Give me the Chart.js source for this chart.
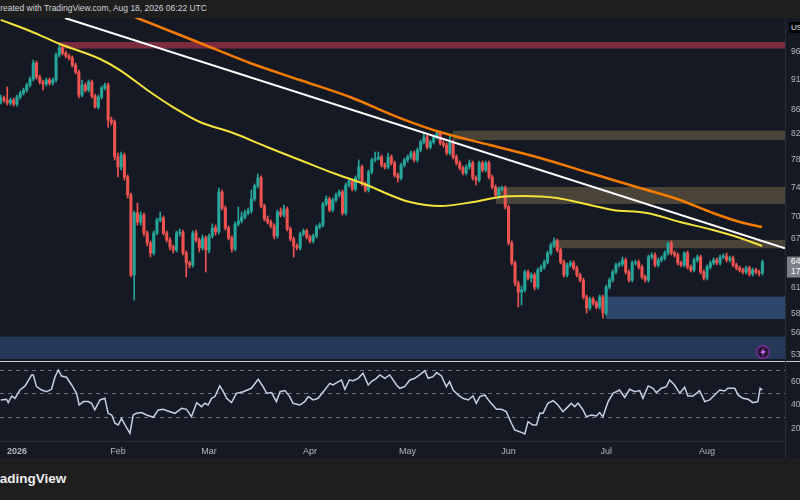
<!DOCTYPE html>
<html>
<head>
<meta charset="utf-8">
<script src="https://cdn.jsdelivr.net/npm/chart.js@4.4.1/dist/chart.umd.min.js"></script>
<style>
  html, body { margin: 0; padding: 0; width: 800px; height: 500px; overflow: hidden; background: #1e1e1e; font-family: "Liberation Sans", Arial, sans-serif; }
  #header { position: absolute; left: 0; top: 0; width: 800px; height: 18px; background: #1e1e1e; overflow: hidden; }
  #header span { position: absolute; left: -6px; top: 3px; font-size: 8.5px; color: #d1d4dc; white-space: nowrap; }
  #main { position: absolute; left: 0; top: 18px; background: #151924; }
  #rsi { position: absolute; left: 0; top: 362px; background: #151924; }
  #sep { position: absolute; left: 0; top: 360.5px; width: 800px; height: 1.5px; background: #c9cbd1; }
  #vsep { position: absolute; left: 785px; top: 18px; width: 1px; height: 440px; background: #2a2e39; }
  #footer { position: absolute; left: 0; top: 458px; width: 800px; height: 42px; background: #1e1e1e; overflow: hidden; }
  #footer span { position: absolute; left: -13px; top: 13px; font-size: 13.5px; font-weight: 700; color: #ececec; white-space: nowrap; }
  #cur { position: absolute; left: 789px; top: 22px; width: 20px; height: 11px; background: #050505; border-radius: 2px; color: #e0e3eb; font-size: 8px; line-height: 11px; padding-left: 2px; }
  #bolt { position: absolute; left: 755px; top: 344px; }
</style>
</head>
<body>
<div id="header"><span>Created with TradingView.com, Aug 18, 2026 06:22 UTC</span></div>
<canvas id="main" width="800" height="343"></canvas>
<canvas id="rsi" width="800" height="96"></canvas>
<div id="sep"></div>
<div id="vsep"></div>
<div id="cur">USD</div>
<svg id="bolt" width="16" height="16"><circle cx="8" cy="8" r="6.3" fill="#2a1738" stroke="#7b2c9c" stroke-width="1.4"/><path d="M9.2 3.4 L5.4 8.9 H7.9 L6.9 12.6 L10.7 7.1 H8.2 Z" fill="#d66bff"/></svg>
<div id="footer"><span>TradingView</span></div>

<script>
// --- daily candles, index 0 = Dec 27 2025, last = Aug 18 2026 ---
const firstOpen = 87190;
const closes = [
  87870,87530,87030,87530,86860,88040,88720,89230,90090,91140,
  93990,91490,90620,90270,90970,90440,90970,95450,96730,95820,
  95270,94900,93620,92370,88370,90090,89230,90620,88200,86360,
  88040,89570,90090,84230,83910,78450,76960,78750,75490,72920,
  62520,70440,69230,70170,67780,66500,65230,67780,69500,69770,
  67780,66880,65990,65600,67780,67910,65230,63980,63730,67780,
  66880,65860,67140,65600,67390,68440,67910,73340,71120,68440,
  67140,65730,68970,69370,69900,70440,70710,72360,74190,75350,
  71390,69630,69230,68700,67390,70580,70170,70980,68300,67010,
  66110,65860,67650,68040,67270,66750,67390,68570,68830,71670,
  72360,70850,72220,72920,73340,70440,74330,74910,73760,75350,
  76960,74480,73620,76220,78000,78150,78450,77250,76960,78450,
  77550,75780,75350,77250,78000,78450,79050,78000,79510,80740,
  81520,79970,80740,81520,82150,80590,80280,79050,80740,78450,
  77550,76810,76070,76960,77550,75350,75050,77550,76510,77550,
  75490,74050,72920,73760,73910,71260,66500,63980,61560,60500,
  60740,62880,62160,62520,61090,63120,63490,64100,65230,66240,
  66750,65600,64100,62520,63730,63980,63370,62520,61920,59930,
  58670,59700,59240,58790,59930,58110,61090,61920,62880,63730,
  63860,64350,62880,61920,63980,64100,63490,62280,61920,64720,
  64970,63730,64350,64600,65230,66500,65230,64970,63980,63730,
  65230,63490,63120,64350,64720,62880,62160,63490,63980,64350,
  63980,64720,64850,64350,64600,63730,63370,63120,62880,63370,
  62640,63120,62880,62760,64100
];
const highs = [
  88370,88200,89750,87870,87870,88370,89060,89570,90440,91490,
  94530,94350,91840,90970,91320,91320,91320,95820,97290,97100,
  96180,95630,95270,93990,92730,90970,90440,90970,90970,88550,
  88370,89920,90440,90440,84710,84230,79050,79210,79050,75780,
  73200,70710,71800,70580,70440,68040,66750,68040,69770,70580,
  70040,68040,67140,66240,68040,68300,68170,65480,64230,68040,
  68170,67140,67520,67390,67650,68970,68830,73910,73620,71390,
  68700,67390,69230,71260,70580,70850,71120,73620,74480,75930,
  75640,71670,70040,69500,68970,70850,71120,71530,71260,68570,
  67270,66370,67910,68300,68300,67520,67650,68830,69100,71940,
  72780,72640,72500,73200,73620,73620,74620,75200,75200,75640,
  78000,77250,74770,76510,78300,79210,79210,78750,77550,79050,
  78750,77850,76070,77550,78300,78750,79360,79360,79820,81050,
  82150,81830,81050,81830,82470,82470,80900,80590,81830,81050,
  78750,77850,77100,77250,78000,77850,75640,77850,77850,77850,
  77850,75780,74330,74050,74190,74190,71530,66750,64230,61800,
  61210,63120,63120,62760,62760,63370,63730,64350,65480,66500,
  67140,67010,65860,64350,63980,64230,64230,63610,62760,62160,
  60160,59930,59930,59470,60160,60160,61320,62160,63120,63980,
  64100,64720,64600,63120,64230,64350,64350,63730,62520,64970,
  65230,65230,64600,64850,65480,66620,66750,65480,65230,64230,
  65350,65480,63730,64600,64970,64970,63120,63730,64230,64600,
  64600,64970,65100,65230,64850,64850,63980,63610,63370,63610,
  63610,63370,63370,63120,64350
];
const lows = [
  86860,87190,86690,86690,86520,86520,87700,88370,88890,89750,
  90790,91140,90270,89230,89920,90090,90090,90620,95080,95450,
  94900,94530,93260,92020,87870,88040,88890,88890,87870,86190,
  86030,87700,89230,83100,83420,78000,75490,76510,75050,72500,
  62280,59580,68830,68830,67390,66110,64720,64970,67520,69230,
  67520,66620,65600,65230,65350,67390,64970,62280,63370,63490,
  66620,65350,65600,62880,65230,67140,67520,67650,70850,68170,
  66880,65350,65480,68700,69100,69630,70170,70440,72080,73910,
  71120,69370,68970,68440,67010,67140,69900,69900,68040,66750,
  64720,65600,65600,67390,67010,66500,66500,67140,68300,68570,
  71390,70580,70580,71940,72640,70170,70170,74050,73480,73480,
  75050,74190,73340,73340,75930,77700,78000,76960,76660,76660,
  77250,75490,74770,75050,76960,77700,78150,77700,77700,79210,
  80430,79660,79660,80430,81210,80280,79970,78750,78750,78150,
  77250,76510,75780,75780,76660,75050,74330,74770,76220,76220,
  75200,73760,72640,72640,73480,70980,66240,63730,61210,58790,
  59010,60500,61920,61680,60740,60850,62880,63240,63860,64970,
  65990,65350,63860,62280,62280,63490,63120,62280,61680,59700,
  58110,58440,59010,58560,58560,57550,57880,60850,61680,62640,
  63490,63610,62640,61680,61680,63730,63240,62040,61680,61680,
  64470,63490,63490,64100,64350,64970,64970,64720,63730,63490,
  63490,63240,62880,62880,64100,62640,61920,61920,63240,63730,
  63730,63730,64470,64100,64100,63490,63120,62880,62640,62640,
  62400,62400,62640,62400,62520
];

// moving averages and trendline as [candle index, price]
const yellowMA = [[0,102110],[9,99960],[18.2,97490],[30.5,94720],[36.6,92730],[45.9,88890],[52.9,86360],
  [61.2,83910],[71.4,82150],[81.8,79970],[91.9,78000],[102.1,76070],[112.5,74330],[119.6,72920],
  [125.7,71940],[134.9,71390],[145.1,71940],[153.4,72640],[160.5,72780],[170.9,72500],[181,71530],
  [188.1,70850],[198.5,70440],[208.7,69230],[218.8,68170],[227.1,67140],[233.9,66110]];
const orangeMA = [[30.5,105280],[41.9,102490],[61.2,97680],[76.6,93990],[91.9,90970],[107.3,88040],
  [122.7,84550],[134.9,82310],[150.3,80280],[165.7,78300],[181,76070],[196.4,73910],[208.7,72220],
  [218.8,70440],[227.1,69230],[233.9,68570]];
const trendLine = [[19.75,102490],[240.94,65810]];

// horizontal zones
const zoneStart = [18.2, 138.9, 152.2, 169.7, 185.9, -1];
const zoneTop = [97860, 82520, 74050, 66880, 59970, 55530];
const zoneBottom = [96650, 81050, 71670, 65820, 57450, 53190];
const zoneColors = ["#7d2b3f", "#4a4337", "#4a4337", "#4a4337", "#2c466c", "#263858"];

// RSI as [candle index, value]
const rsiPoints = [[0,44.3],[1.8,44.9],[2.3,42],[3.4,47.7],[4.4,45.7],[5.9,52.8],[7.5,56.3],[9.5,65.7],[10,65.7],[11,55.7],
  [12.6,52.8],[14.1,51.4],[15.6,53.4],[16.7,64.2],[17.7,69.9],[18.7,64.8],[20.2,63.7],[21.8,57.1],[23.3,50],[24.1,40],
  [25.4,42.9],[26.9,42.9],[27.9,41.5],[28.9,35.8],[30.5,44.3],[32,45.7],[33,32.9],[34.1,31.5],[35.1,24.4],[36.1,22.9],
  [37.1,28.6],[38.2,22.9],[39.7,15.8],[40.7,31.5],[41.7,32.9],[43.3,33.5],[44.8,31.5],[46.9,29.5],[48.4,35.8],[49.9,36.3],
  [52,34.3],[53.5,32.9],[55.6,37.2],[57.1,36.3],[58.6,30],[60.2,42],[61.7,38.6],[62.7,41.5],[63.7,40],[64.8,45.7],
  [65.8,47.2],[67.3,56.3],[68.4,51.4],[69.4,45.7],[70.9,42],[72.4,50],[74.5,51.4],[77,54.3],[79.1,62],[80.6,55.7],
  [81.7,50],[83.2,50.6],[84.7,42.9],[85.8,51.4],[87.3,52.3],[88.8,47.2],[89.8,41.5],[91.9,40],[93.4,42.9],[94.5,47.2],
  [96,44.3],[97.5,45.7],[99.1,51.4],[101.1,58.5],[102.1,57.1],[103.2,59.1],[104.7,61.4],[105.7,53.4],[107.1,61.4],[108.3,60.8],
  [109.8,62.8],[111.3,67.1],[112.9,57.1],[113.9,60],[115.4,62.8],[116.5,65.7],[118,62.8],[119.5,65.7],[121.6,57.1],[122.6,54.3],
  [124.1,55.7],[125.7,61.4],[127.2,62.8],[128.7,65.7],[130.3,69.4],[131.3,62.8],[132.8,64.2],[133.9,67.7],[135.4,64.8],[136.9,55.7],
  [137.9,60],[139,52.8],[140.5,48.6],[142,45.7],[143.6,44.3],[145.1,47.7],[146.1,41.5],[147.2,47.2],[148.7,48.6],[150.2,42.9],
  [152.3,36.3],[153.8,36.3],[155.3,34.3],[156.9,24.4],[157.9,18.7],[159.4,17.2],[161,15.2],[162,25.8],[163.5,22.9],[164.6,22.9],
  [165.6,32.9],[166.6,32.9],[168.1,41.5],[169.7,43.7],[171.2,40],[172.7,34.3],[174.3,38.6],[175.3,41.5],[176.3,38.6],[177.4,41.5],
  [178.9,35.8],[179.9,30],[181.5,31.5],[183,30.6],[184,33.5],[185,30],[186.6,42.9],[188.1,50],[190.1,52.8],[191.7,46.6],
  [193.2,53.4],[194.8,51.4],[196.3,52.3],[197.3,45.7],[198.9,56.3],[200.4,54.3],[201.4,50.6],[203,54.3],[204.5,55.7],[205.5,61.4],
  [207,57.1],[208.6,50],[210.1,55.1],[211.1,47.7],[212.7,47.7],[214.7,52.3],[216.3,42.9],[217.8,44.3],[219.3,48.6],[220.9,52.8],
  [222.4,52],[223.4,54.3],[225.5,54.3],[226.5,48.6],[228,45.7],[229.6,44.9],[231.1,42],[232.6,42.9],[233.3,54.3],[234,52.8]];
const rsiLevels = [70, 50, 30];

// axes
const monthIdx = [5, 36, 64, 95, 125, 156, 186, 217];
const monthLabels = ["2026", "Feb", "Mar", "Apr", "May", "Jun", "Jul", "Aug"];
const priceTicks = [96000, 91000, 86000, 82000, 78000, 74000, 70000, 67000, 61000, 58000, 56000, 53600];
const rsiTicks = [60, 40, 20];
const xMin = -0.22, xMax = 240.94;
const priceMin = 52990, priceMax = 102490;
const rsiMin = 9.23, rsiMax = 75.9;

const UP = "#26a69a", DOWN = "#ef5350";
const AXIS_TEXT = "#b2b5be";
Chart.defaults.font.family = '"Liberation Sans", Arial, sans-serif';

const opens = closes.map((c, i) => i === 0 ? firstOpen : closes[i - 1]);
const candleColors = closes.map((c, i) => c >= opens[i] ? UP : DOWN);
const toXY = arr => arr.map(p => ({ x: p[0], y: p[1] }));

const zonePlugin = {
  id: "zones",
  beforeDatasetsDraw(chart) {
    const { ctx, chartArea, scales: { x, y } } = chart;
    ctx.save();
    ctx.beginPath();
    ctx.rect(chartArea.left, chartArea.top, chartArea.width, chartArea.height);
    ctx.clip();
    zoneStart.forEach((s, i) => {
      const x0 = Math.max(x.getPixelForValue(s), chartArea.left);
      const y0 = y.getPixelForValue(zoneTop[i]);
      const y1 = y.getPixelForValue(zoneBottom[i]);
      ctx.fillStyle = zoneColors[i];
      ctx.fillRect(x0, y0, chartArea.right - x0, y1 - y0);
    });
    ctx.restore();
  }
};

// last price tag on the price scale
const lastPricePlugin = {
  id: "lastPrice",
  afterDraw(chart) {
    const { ctx, chartArea, scales: { y } } = chart;
    const last = closes[closes.length - 1];
    const py = y.getPixelForValue(last);
    ctx.save();
    ctx.fillStyle = "#7e818a";
    ctx.fillRect(chartArea.right + 2, py - 5.5, 20, 21);
    ctx.fillStyle = "#ffffff";
    ctx.font = '8.5px "Liberation Sans", Arial, sans-serif';
    ctx.textBaseline = "middle";
    ctx.fillText(last.toFixed(2), chartArea.right + 6, py);
    ctx.fillText("17:37:41", chartArea.right + 6, py + 9.5);
    ctx.restore();
  }
};

const levelPlugin = {
  id: "levels",
  beforeDatasetsDraw(chart) {
    const { ctx, chartArea, scales: { y } } = chart;
    ctx.save();
    ctx.strokeStyle = "#6b6f7b";
    ctx.lineWidth = 1;
    ctx.setLineDash([4, 4]);
    rsiLevels.forEach(v => {
      const py = Math.round(y.getPixelForValue(v)) + 0.5;
      ctx.beginPath();
      ctx.moveTo(chartArea.left, py);
      ctx.lineTo(chartArea.right, py);
      ctx.stroke();
    });
    ctx.restore();
  }
};

function noPad(s) { s.paddingTop = 0; s.paddingBottom = 0; s.paddingLeft = 0; s.paddingRight = 0; }

// --- price panel ---
new Chart(document.getElementById("main"), {
  type: "bar",
  data: {
    datasets: [
      {
        type: "line", data: toXY(trendLine), borderColor: "#ffffff", borderWidth: 2,
        pointRadius: 0, order: 0
      },
      {
        type: "line", data: toXY(orangeMA), borderColor: "#f57c00", borderWidth: 2.5,
        pointRadius: 0, cubicInterpolationMode: "monotone", order: 0
      },
      {
        type: "line", data: toXY(yellowMA), borderColor: "#f4e23c", borderWidth: 2,
        pointRadius: 0, cubicInterpolationMode: "monotone", order: 0
      },
      {
        data: closes.map((c, i) => ({ x: i, y: [opens[i], c] })),
        backgroundColor: candleColors, barThickness: 2.4, minBarLength: 1,
        grouped: false, order: 1
      },
      {
        data: closes.map((c, i) => ({ x: i, y: [lows[i], highs[i]] })),
        backgroundColor: candleColors, barThickness: 1,
        grouped: false, order: 2
      }
    ]
  },
  options: {
    responsive: false,
    animation: false,
    layout: { padding: 0 },
    plugins: { legend: { display: false }, tooltip: { enabled: false } },
    scales: {
      x: { type: "linear", min: xMin, max: xMax, offset: false, display: false },
      y: {
        type: "logarithmic", position: "right", min: priceMin, max: priceMax,
        grid: { display: false, drawTicks: false }, border: { display: false },
        afterFit(s) { s.width = 15; noPad(s); },
        afterBuildTicks(s) { s.ticks = priceTicks.map(v => ({ value: v })); },
        ticks: {
          color: AXIS_TEXT, font: { size: 8.5 }, padding: 6, autoSkip: false,
          callback: v => Number(v).toFixed(2)
        }
      }
    }
  },
  plugins: [zonePlugin, lastPricePlugin]
});

// --- RSI panel ---
new Chart(document.getElementById("rsi"), {
  type: "line",
  data: {
    datasets: [{
      data: toXY(rsiPoints), borderColor: "#c4d0e4", borderWidth: 1.5, pointRadius: 0
    }]
  },
  options: {
    responsive: false,
    animation: false,
    layout: { padding: { top: 1 } },
    plugins: { legend: { display: false }, tooltip: { enabled: false } },
    scales: {
      x: {
        type: "linear", min: xMin, max: xMax,
        grid: { display: false, drawTicks: false }, border: { display: true, color: "#2a2e39" },
        afterFit(s) { s.height = 17; noPad(s); },
        afterBuildTicks(s) { s.ticks = monthIdx.map(v => ({ value: v })); },
        ticks: {
          color: AXIS_TEXT, padding: 5, autoSkip: false, maxRotation: 0,
          font: c => ({ size: 9, weight: c.index === 0 ? "bold" : "normal" }),
          callback: (v, i) => monthLabels[i]
        }
      },
      y: {
        position: "right", min: rsiMin, max: rsiMax,
        grid: { display: false, drawTicks: false }, border: { display: false },
        afterFit(s) { s.width = 15; noPad(s); },
        afterBuildTicks(s) { s.ticks = rsiTicks.map(v => ({ value: v })); },
        ticks: { color: AXIS_TEXT, font: { size: 8.5 }, padding: 6, callback: v => Number(v).toFixed(2) }
      }
    }
  },
  plugins: [levelPlugin]
});
</script>
</body>
</html>
